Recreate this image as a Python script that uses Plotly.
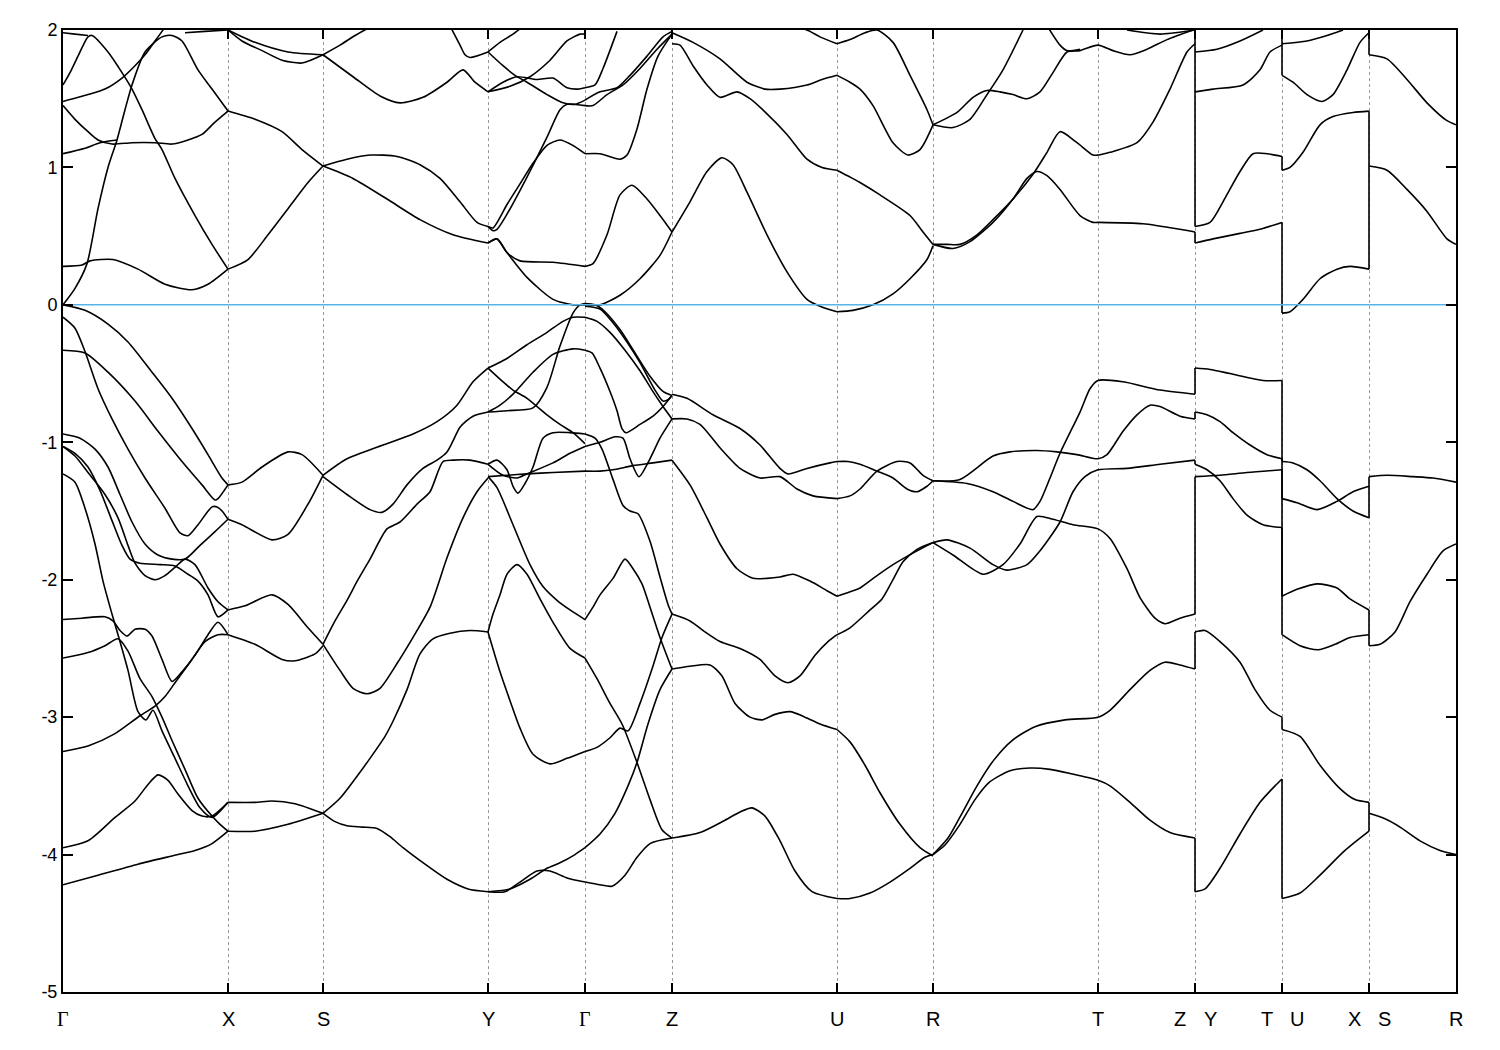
import plotly.graph_objects as go

# ---------------- high-symmetry path (path coordinate, arbitrary units) ----------------
hs_pos = [63, 228, 323, 488, 585, 672, 837, 933, 1098, 1195, 1282, 1369, 1456]
label_text = ["Γ", "X", "S", "Y", "Γ", "Z", "U", "R", "T", "Z", "Y", "T", "U", "X", "S", "R"]
label_pos = [63, 228, 323, 488, 585, 672, 837, 933, 1098, 1195, 1195, 1282, 1282, 1369, 1369, 1456]
label_side = [0, 0, 0, 0, 0, 0, 0, 0, 0, -1, 1, -1, 1, -1, 1, 0]

y_ticks = [-5, -4, -3, -2, -1, 0, 1, 2]
y_tick_text = ["-5", "-4", "-3", "-2", "-1", "0", "1", "2"]
e_fermi = 0.0

# ---------------- bands: each curve is a list of (k, E) ----------------
band_GX = [
    [(63,0.0),(75,0.12),(87,0.30),(98,0.70),(108,1.0),(117,1.20),(125,1.42),(132,1.60),(145,1.84),(162,1.95),(172,1.96),(182,1.92),(198,1.71),(212,1.57),(228,1.41)],
    [(63,0.28),(82,0.29),(90,0.32),(113,0.33),(138,0.26),(165,0.15),(192,0.11),(208,0.15),(228,0.26)],
    [(63,1.60),(70,1.69),(78,1.81),(88,1.95),(92,1.96),(108,1.84),(122,1.69),(132,1.57),(142,1.42),(155,1.21),(162,1.13),(175,0.92),(195,0.65),(212,0.44),(228,0.26)],
    [(63,1.48),(88,1.53),(105,1.57),(122,1.65),(135,1.74),(145,1.82),(155,1.92),(162,1.99),(168,2.05)],
    [(63,1.45),(75,1.35),(88,1.26),(98,1.20),(112,1.17),(132,1.18),(155,1.18),(172,1.17),(188,1.20),(202,1.24),(215,1.33),(228,1.41)],
    [(63,1.10),(85,1.14),(100,1.18),(117,1.20)],
    [(63,1.98),(75,1.97),(88,1.96)],
    [(185,1.98),(205,1.99),(228,2.0)],
    [(63,0.0),(85,-0.04),(108,-0.14),(128,-0.27),(152,-0.49),(172,-0.68),(192,-0.90),(208,-1.09),(222,-1.26),(228,-1.31)],
    [(63,-0.09),(75,-0.17),(85,-0.34),(98,-0.61),(112,-0.83),(128,-1.05),(145,-1.26),(165,-1.48),(180,-1.66),(188,-1.68),(198,-1.60),(212,-1.47),(217,-1.47),(222,-1.50),(228,-1.56)],
    [(63,-0.33),(85,-0.35),(108,-0.49),(135,-0.70),(158,-0.92),(182,-1.14),(202,-1.31),(215,-1.42),(218,-1.41),(228,-1.31)],
    [(63,-0.94),(80,-0.97),(95,-1.05),(108,-1.18),(120,-1.38),(132,-1.58),(145,-1.74),(158,-1.82),(172,-1.85),(185,-1.85),(200,-1.75),(215,-1.65),(228,-1.56)],
    [(63,-1.03),(75,-1.08),(88,-1.18),(100,-1.35),(112,-1.57),(122,-1.75),(130,-1.85),(140,-1.88),(160,-1.89),(175,-1.90),(188,-1.96),(198,-2.01),(208,-2.11),(218,-2.27),(228,-2.22)],
    [(63,-1.03),(75,-1.10),(88,-1.22),(105,-1.38),(118,-1.55),(128,-1.75),(135,-1.88),(145,-1.97),(155,-2.0),(165,-1.97),(175,-1.91),(185,-1.85),(195,-1.89),(208,-2.06),(218,-2.16),(228,-2.22)],
    [(63,-1.23),(75,-1.29),(85,-1.48),(95,-1.74),(103,-2.01),(112,-2.25),(118,-2.40),(128,-2.66),(138,-2.96),(146,-3.02),(153,-2.95),(162,-3.10),(175,-3.30),(188,-3.50),(200,-3.66),(212,-3.73),(228,-3.62)],
    [(63,-2.29),(82,-2.28),(105,-2.27),(113,-2.30),(120,-2.37),(127,-2.41),(135,-2.36),(145,-2.36),(152,-2.41),(162,-2.58),(172,-2.74),(182,-2.67),(195,-2.55),(208,-2.40),(218,-2.31),(228,-2.40)],
    [(63,-2.57),(88,-2.53),(105,-2.48),(118,-2.43),(128,-2.52),(140,-2.72),(152,-2.85),(162,-3.00),(172,-3.17),(185,-3.38),(198,-3.59),(212,-3.72),(220,-3.78),(228,-3.83)],
    [(63,-3.25),(88,-3.21),(115,-3.12),(140,-2.99),(155,-2.92),(165,-2.85),(175,-2.75),(190,-2.60),(205,-2.45),(218,-2.40),(228,-2.40)],
    [(63,-3.95),(88,-3.90),(115,-3.73),(135,-3.61),(148,-3.49),(158,-3.42),(168,-3.46),(178,-3.56),(192,-3.68),(202,-3.72),(212,-3.72),(228,-3.62)],
    [(63,-4.22),(98,-4.15),(138,-4.07),(172,-4.01),(195,-3.97),(212,-3.92),(228,-3.83)],
]

band_XS = [
    [(228,2.0),(255,1.91),(288,1.84),(323,1.82)],
    [(228,2.0),(242,1.92),(262,1.85),(282,1.78),(302,1.76),(323,1.82)],
    [(228,1.41),(255,1.35),(282,1.26),(302,1.13),(323,1.01)],
    [(228,0.26),(248,0.33),(268,0.51),(288,0.70),(308,0.89),(323,1.01)],
    [(228,-1.31),(242,-1.29),(262,-1.18),(288,-1.07),(302,-1.09),(323,-1.24)],
    [(228,-1.56),(242,-1.60),(272,-1.71),(288,-1.67),(308,-1.45),(323,-1.24)],
    [(228,-2.22),(245,-2.19),(272,-2.11),(288,-2.18),(308,-2.35),(323,-2.47)],
    [(228,-2.40),(255,-2.47),(282,-2.58),(295,-2.59),(315,-2.54),(323,-2.48)],
    [(228,-3.62),(255,-3.62),(272,-3.61),(295,-3.63),(323,-3.70)],
    [(228,-3.83),(255,-3.83),(288,-3.78),(323,-3.70)],
]

band_SY = [
    [(323,1.82),(340,1.89),(355,1.96),(370,2.02)],
    [(323,1.82),(353,1.66),(380,1.52),(400,1.47),(423,1.51),(447,1.62),(463,1.71),(475,1.62),(488,1.55)],
    [(323,1.01),(347,1.06),(370,1.09),(397,1.08),(420,1.02),(440,0.92),(460,0.75),(477,0.60),(488,0.57)],
    [(323,1.01),(353,0.92),(387,0.77),(420,0.62),(453,0.51),(488,0.45)],
    [(450,2.03),(460,1.89),(465,1.82),(470,1.80),(488,1.84)],
    [(323,-1.24),(347,-1.12),(383,-1.02),(413,-0.94),(437,-0.85),(457,-0.73),(473,-0.56),(488,-0.46)],
    [(323,-1.25),(347,-1.38),(370,-1.49),(382,-1.51),(393,-1.45),(407,-1.31),(423,-1.19),(437,-1.13),(447,-1.07),(453,-0.99),(460,-0.89),(473,-0.81),(488,-0.78)],
    [(323,-2.47),(335,-2.30),(347,-2.15),(358,-2.0),(370,-1.85),(387,-1.63),(400,-1.58),(417,-1.45),(430,-1.36),(443,-1.14),(453,-1.13),(470,-1.13),(488,-1.16)],
    [(323,-2.47),(340,-2.66),(353,-2.79),(367,-2.83),(380,-2.79),(397,-2.61),(413,-2.42),(430,-2.20),(447,-1.84),(463,-1.55),(477,-1.36),(488,-1.26)],
    [(323,-3.70),(340,-3.59),(355,-3.45),(370,-3.30),(385,-3.14),(393,-3.03),(407,-2.80),(420,-2.54),(433,-2.43),(450,-2.39),(470,-2.37),(488,-2.38)],
    [(323,-3.70),(335,-3.76),(347,-3.79),(362,-3.80),(377,-3.81),(390,-3.87),(403,-3.95),(425,-4.07),(447,-4.18),(468,-4.25),(488,-4.27)],
]

band_YG = [
    [(488,0.45),(497,0.48),(507,0.38),(527,0.20),(553,0.04),(573,0.0),(585,0.0)],
    [(488,0.45),(497,0.48),(507,0.38),(520,0.32),(553,0.31),(585,0.28)],
    [(488,0.57),(493,0.54),(497,0.55),(507,0.66),(527,0.93),(547,1.22),(560,1.42),(567,1.46),(585,1.45)],
    [(488,0.57),(493,0.56),(507,0.73),(520,0.88),(533,1.03),(547,1.16),(560,1.20),(573,1.16),(585,1.10)],
    [(488,1.84),(503,1.74),(515,1.67),(527,1.62),(547,1.53),(563,1.47),(575,1.46),(585,1.49)],
    [(488,1.55),(503,1.62),(517,1.66),(537,1.64),(553,1.65),(567,1.58),(578,1.57),(585,1.58)],
    [(488,1.55),(510,1.59),(530,1.66),(550,1.78),(567,1.92),(580,1.97),(585,1.97)],
    [(488,1.84),(500,1.91),(513,1.97),(522,2.02)],
    [(488,-0.46),(507,-0.39),(527,-0.29),(547,-0.20),(563,-0.12),(573,-0.09),(585,-0.09)],
    [(488,-0.46),(500,-0.54),(513,-0.62),(527,-0.68),(547,-0.80),(560,-0.87),(573,-0.93),(585,-1.01)],
    [(488,-0.78),(500,-0.73),(513,-0.65),(533,-0.49),(553,-0.36),(573,-0.32),(585,-0.33)],
    [(488,-0.78),(507,-0.77),(533,-0.75),(547,-0.60),(560,-0.30),(573,-0.06),(580,0.0),(585,0.01)],
    [(488,-1.25),(507,-1.24),(527,-1.23),(553,-1.22),(585,-1.21)],
    [(488,-1.16),(497,-1.13),(507,-1.20),(513,-1.32),(518,-1.37),(525,-1.30),(533,-1.18),(543,-0.97),(553,-0.93),(570,-0.93),(585,-0.94)],
    [(488,-1.16),(503,-1.24),(517,-1.26),(527,-1.23),(553,-1.15),(570,-1.08),(585,-1.03)],
    [(488,-1.25),(497,-1.33),(513,-1.60),(530,-1.89),(543,-2.05),(557,-2.15),(570,-2.22),(585,-2.29)],
    [(488,-2.38),(493,-2.25),(500,-2.11),(507,-1.96),(517,-1.89),(527,-1.96),(540,-2.14),(553,-2.31),(570,-2.50),(585,-2.57)],
    [(488,-2.38),(500,-2.67),(510,-2.88),(520,-3.08),(533,-3.27),(550,-3.34),(567,-3.30),(585,-3.25)],
    [(488,-4.27),(510,-4.25),(530,-4.18),(547,-4.10),(560,-4.06),(575,-4.0),(585,-3.95)],
    [(488,-4.27),(505,-4.27),(520,-4.20),(537,-4.12),(550,-4.12),(567,-4.17),(585,-4.20)],
]

band_GZ = [
    [(585,0.0),(600,0.0),(620,0.07),(640,0.19),(660,0.36),(672,0.53)],
    [(585,0.28),(593,0.30),(607,0.51),(620,0.80),(632,0.87),(647,0.77),(660,0.65),(672,0.53)],
    [(585,1.10),(600,1.10),(620,1.06),(627,1.09),(637,1.28),(647,1.57),(658,1.81),(672,1.97)],
    [(585,1.45),(593,1.45),(607,1.53),(623,1.60),(640,1.72),(657,1.86),(672,1.97)],
    [(585,1.49),(600,1.55),(617,1.58),(630,1.67),(647,1.81),(663,1.95),(672,1.99)],
    [(585,1.58),(595,1.60),(603,1.72),(617,1.99)],
    [(585,0.01),(595,0.0),(605,-0.05),(620,-0.18),(635,-0.35),(650,-0.52),(663,-0.63),(672,-0.66)],
    [(585,-0.01),(600,-0.03),(613,-0.13),(627,-0.27),(640,-0.42),(655,-0.62),(663,-0.70),(668,-0.69),(672,-0.66)],
    [(585,-0.09),(597,-0.12),(610,-0.20),(625,-0.33),(640,-0.48),(652,-0.62),(663,-0.74),(672,-0.83)],
    [(585,-0.33),(592,-0.35),(600,-0.46),(610,-0.63),(617,-0.77),(622,-0.90),(626,-0.93),(640,-0.87),(653,-0.81),(663,-0.74),(672,-0.66)],
    [(585,-0.94),(595,-0.97),(602,-1.05),(613,-1.27),(623,-1.46),(630,-1.50),(638,-1.52),(650,-1.72),(660,-1.98),(668,-2.18),(672,-2.25)],
    [(585,-1.03),(600,-1.00),(615,-0.96),(623,-0.97),(630,-1.12),(639,-1.25),(650,-1.12),(660,-0.97),(672,-0.83)],
    [(585,-1.21),(600,-1.21),(613,-1.20),(633,-1.17),(653,-1.15),(672,-1.13)],
    [(585,-2.29),(593,-2.20),(600,-2.11),(613,-1.99),(625,-1.85),(633,-1.92),(642,-2.03),(650,-2.20),(660,-2.42),(672,-2.65)],
    [(585,-2.57),(597,-2.72),(610,-2.90),(622,-3.05),(637,-3.33),(650,-3.60),(662,-3.82),(672,-3.88)],
    [(585,-3.25),(597,-3.22),(610,-3.15),(620,-3.08),(628,-3.10),(640,-2.90),(652,-2.65),(662,-2.42),(672,-2.25)],
    [(585,-3.95),(600,-3.85),(615,-3.70),(628,-3.50),(637,-3.33),(648,-3.05),(660,-2.80),(672,-2.65)],
    [(585,-4.20),(600,-4.22),(612,-4.23),(625,-4.15),(637,-4.02),(650,-3.92),(672,-3.88)],
]

band_ZU = [
    [(672,0.53),(690,0.75),(707,0.97),(722,1.07),(733,1.02),(747,0.82),(767,0.51),(787,0.24),(807,0.04),(820,-0.01),(837,-0.05)],
    [(672,1.90),(680,1.89),(693,1.74),(707,1.60),(720,1.51),(737,1.55),(750,1.50),(767,1.39),(787,1.24),(807,1.06),(822,1.00),(837,0.98)],
    [(672,1.98),(693,1.91),(720,1.79),(747,1.62),(765,1.57),(780,1.57),(807,1.60),(822,1.64),(837,1.67)],
    [(800,2.02),(810,1.99),(820,1.95),(837,1.90)],
    [(672,-0.65),(687,-0.68),(713,-0.80),(740,-0.90),(760,-1.02),(780,-1.19),(788,-1.23),(807,-1.19),(830,-1.15),(837,-1.14)],
    [(672,-0.83),(687,-0.83),(700,-0.87),(720,-1.04),(740,-1.19),(760,-1.26),(780,-1.25),(797,-1.34),(813,-1.39),(837,-1.41)],
    [(672,-1.13),(690,-1.31),(707,-1.55),(720,-1.74),(737,-1.92),(753,-1.99),(767,-1.99),(780,-1.98),(793,-1.96),(810,-2.01),(827,-2.08),(837,-2.12)],
    [(672,-2.25),(690,-2.30),(705,-2.38),(720,-2.45),(740,-2.50),(760,-2.58),(775,-2.70),(788,-2.75),(800,-2.70),(815,-2.55),(828,-2.45),(837,-2.40)],
    [(672,-2.65),(690,-2.63),(710,-2.62),(722,-2.70),(735,-2.90),(750,-3.00),(762,-3.02),(775,-2.98),(790,-2.96),(805,-3.0),(820,-3.05),(837,-3.09)],
    [(672,-3.88),(700,-3.84),(725,-3.75),(740,-3.69),(752,-3.66),(765,-3.72),(780,-3.90),(795,-4.12),(812,-4.27),(837,-4.32)],
]

band_UR = [
    [(837,-0.05),(853,-0.04),(873,0.0),(893,0.08),(910,0.19),(927,0.33),(933,0.43)],
    [(837,0.98),(850,0.93),(860,0.89),(880,0.80),(910,0.65),(923,0.53),(933,0.44)],
    [(837,1.67),(850,1.62),(860,1.57),(873,1.45),(893,1.18),(908,1.09),(920,1.13),(933,1.31)],
    [(837,1.90),(850,1.93),(865,1.98),(877,2.0),(893,1.91),(910,1.67),(927,1.42),(933,1.31)],
    [(837,-1.14),(848,-1.14),(860,-1.16),(877,-1.21),(893,-1.26),(907,-1.34),(917,-1.36),(927,-1.32),(933,-1.28)],
    [(837,-1.41),(850,-1.39),(860,-1.34),(877,-1.21),(897,-1.14),(910,-1.15),(923,-1.24),(933,-1.28)],
    [(837,-2.12),(853,-2.08),(860,-2.06),(877,-1.97),(893,-1.89),(917,-1.79),(933,-1.73)],
    [(837,-2.40),(850,-2.35),(870,-2.22),(882,-2.14),(893,-2.0),(903,-1.87),(917,-1.78),(933,-1.73)],
    [(837,-3.09),(850,-3.18),(865,-3.35),(880,-3.55),(900,-3.78),(920,-3.95),(933,-4.01)],
    [(837,-4.32),(850,-4.32),(870,-4.28),(890,-4.20),(910,-4.10),(925,-4.02),(933,-4.0)],
]

band_RTZ = [
    [(933,0.44),(947,0.44),(960,0.44),(977,0.51),(993,0.62),(1013,0.77),(1033,0.95),(1047,1.11),(1060,1.26),(1077,1.18),(1093,1.09),(1098,1.09),(1110,1.11),(1137,1.18),(1153,1.33),(1170,1.57),(1187,1.84),(1195,1.90)],
    [(933,0.44),(953,0.41),(970,0.46),(993,0.60),(1013,0.77),(1027,0.92),(1037,0.97),(1047,0.94),(1060,0.84),(1080,0.65),(1093,0.60),(1098,0.60),(1143,0.59),(1180,0.55),(1195,0.53)],
    [(933,1.31),(953,1.29),(970,1.35),(987,1.53),(1003,1.71),(1023,2.0)],
    [(933,1.31),(957,1.40),(973,1.51),(987,1.56),(1000,1.55),(1013,1.53),(1027,1.50),(1040,1.55),(1053,1.69),(1067,1.84),(1080,1.85),(1098,1.89),(1113,1.85),(1130,1.82),(1147,1.86),(1167,1.93),(1193,2.0)],
    [(1048,2.02),(1060,1.89),(1067,1.85),(1080,1.86)],
    [(1127,2.0),(1160,1.97),(1195,2.0)],
    [(933,-1.28),(960,-1.27),(993,-1.10),(1010,-1.07),(1037,-1.06),(1057,-1.07),(1077,-1.09),(1098,-1.12),(1107,-1.09),(1123,-0.92),(1137,-0.80),(1150,-0.73),(1160,-0.74),(1180,-0.81),(1195,-0.83)],
    [(933,-1.28),(967,-1.30),(993,-1.36),(1013,-1.43),(1033,-1.49),(1040,-1.43),(1050,-1.26),(1060,-1.08),(1080,-0.78),(1090,-0.61),(1098,-0.55),(1123,-0.56),(1160,-0.62),(1195,-0.65)],
    [(933,-1.73),(947,-1.71),(970,-1.77),(993,-1.89),(1007,-1.93),(1027,-1.89),(1040,-1.79),(1060,-1.58),(1073,-1.36),(1085,-1.25),(1098,-1.20),(1127,-1.19),(1160,-1.16),(1195,-1.13)],
    [(933,-1.73),(953,-1.82),(983,-1.96),(1003,-1.89),(1020,-1.74),(1037,-1.54),(1053,-1.56),(1073,-1.60),(1098,-1.63),(1110,-1.70),(1127,-1.92),(1140,-2.13),(1155,-2.28),(1165,-2.32),(1180,-2.28),(1195,-2.25)],
    [(933,-4.0),(945,-3.93),(960,-3.78),(975,-3.60),(990,-3.47),(1010,-3.39),(1030,-3.37),(1050,-3.38),(1070,-3.41),(1098,-3.46),(1110,-3.50),(1130,-3.62),(1150,-3.75),(1170,-3.84),(1195,-3.88)],
    [(933,-4.0),(948,-3.88),(962,-3.70),(977,-3.50),(993,-3.32),(1012,-3.17),(1035,-3.07),(1065,-3.02),(1098,-3.0),(1110,-2.95),(1130,-2.80),(1150,-2.66),(1165,-2.60),(1180,-2.62),(1195,-2.65)],
]

band_YT = [
    [(1195,0.45),(1213,0.48),(1240,0.52),(1260,0.55),(1282,0.60)],
    [(1195,0.57),(1210,0.60),(1223,0.75),(1240,0.97),(1253,1.10),(1267,1.10),(1282,1.08)],
    [(1195,1.55),(1213,1.57),(1243,1.60),(1260,1.71),(1270,1.84),(1282,1.89)],
    [(1195,1.84),(1217,1.86),(1240,1.92),(1263,2.0)],
    [(1195,-0.46),(1210,-0.47),(1230,-0.50),(1263,-0.55),(1282,-0.55)],
    [(1195,-0.78),(1207,-0.80),(1220,-0.85),(1233,-0.93),(1250,-1.02),(1267,-1.09),(1282,-1.12)],
    [(1195,-1.16),(1207,-1.20),(1220,-1.28),(1233,-1.41),(1247,-1.53),(1263,-1.60),(1282,-1.62)],
    [(1195,-1.25),(1220,-1.24),(1247,-1.22),(1282,-1.20)],
    [(1195,-2.38),(1205,-2.37),(1220,-2.45),(1240,-2.60),(1255,-2.80),(1270,-2.95),(1282,-3.0)],
    [(1195,-4.27),(1205,-4.25),(1220,-4.10),(1240,-3.85),(1260,-3.62),(1275,-3.50),(1282,-3.45)],
]

band_UX = [
    [(1282,-0.06),(1290,-0.05),(1303,0.04),(1320,0.19),(1337,0.26),(1350,0.28),(1369,0.26)],
    [(1282,0.98),(1290,1.0),(1303,1.11),(1320,1.31),(1333,1.37),(1353,1.40),(1369,1.41)],
    [(1282,1.67),(1293,1.62),(1307,1.53),(1322,1.48),(1333,1.53),(1347,1.71),(1360,1.91),(1369,1.98)],
    [(1282,1.90),(1307,1.92),(1327,1.96),(1343,2.0)],
    [(1282,-1.14),(1293,-1.15),(1307,-1.20),(1320,-1.28),(1337,-1.41),(1353,-1.50),(1369,-1.55)],
    [(1282,-1.41),(1297,-1.44),(1317,-1.49),(1337,-1.43),(1353,-1.36),(1369,-1.32)],
    [(1282,-2.12),(1297,-2.07),(1317,-2.03),(1337,-2.06),(1350,-2.14),(1369,-2.22)],
    [(1282,-2.40),(1300,-2.48),(1318,-2.51),(1335,-2.47),(1350,-2.42),(1369,-2.40)],
    [(1282,-3.09),(1300,-3.14),(1320,-3.35),(1340,-3.52),(1355,-3.60),(1369,-3.62)],
    [(1282,-4.32),(1300,-4.28),(1320,-4.15),(1345,-3.97),(1369,-3.83)],
]

band_SR = [
    [(1369,1.82),(1387,1.79),(1407,1.64),(1427,1.47),(1447,1.34),(1456,1.31)],
    [(1369,1.01),(1387,0.98),(1407,0.84),(1427,0.68),(1447,0.48),(1456,0.44)],
    [(1369,-1.25),(1387,-1.24),(1413,-1.25),(1433,-1.26),(1456,-1.29)],
    [(1369,-2.48),(1380,-2.47),(1395,-2.38),(1410,-2.16),(1427,-1.96),(1443,-1.79),(1456,-1.74)],
    [(1369,-3.70),(1385,-3.74),(1400,-3.80),(1420,-3.90),(1440,-3.97),(1456,-4.0)],
]

# vertical connections at the path discontinuities: (k, E_from, E_to)
jumps = [
    (1195, 0.53, 0.45), (1195, 0.57, 2.05), (1195, -0.65, -0.46), (1195, -0.83, -0.78),
    (1195, -1.13, -1.16), (1195, -2.25, -1.25), (1195, -2.65, -2.38), (1195, -3.88, -4.27),
    (1282, 0.60, -0.06), (1282, 1.08, 0.98), (1282, 1.67, 2.05), (1282, -0.55, -1.14),
    (1282, -1.12, -1.41), (1282, -1.20, -2.12), (1282, -1.62, -2.40), (1282, -3.0, -3.09),
    (1282, -3.45, -4.32),
    (1369, 0.26, 1.41), (1369, 1.82, 2.05), (1369, -1.55, -1.25), (1369, -2.22, -2.48),
    (1369, -3.83, -3.62),
]

all_bands = band_GX + band_XS + band_SY + band_YG + band_GZ + band_ZU + band_UR + band_RTZ + band_YT + band_UX + band_SR

# ---------------- figure ----------------
fig = go.Figure()

xs, ys = [], []
for curve in all_bands:
    xs += [p[0] for p in curve] + [None]
    ys += [p[1] for p in curve] + [None]
fig.add_trace(go.Scatter(x=xs, y=ys, mode="lines",
                         line=dict(color="black", width=1.6, shape="spline", smoothing=0.7),
                         hoverinfo="skip", showlegend=False))

jx, jy = [], []
for k, e1, e2 in jumps:
    jx += [k, k, None]
    jy += [e1, e2, None]
fig.add_trace(go.Scatter(x=jx, y=jy, mode="lines", line=dict(color="black", width=1.6),
                         hoverinfo="skip", showlegend=False))

fig.add_trace(go.Scatter(x=[hs_pos[0], hs_pos[-1]], y=[e_fermi, e_fermi], mode="lines",
                         line=dict(color="#56B4E9", width=1.5), hoverinfo="skip", showlegend=False))

for txt, pos, side in zip(label_text, label_pos, label_side):
    fam = "Liberation Serif" if txt == "Γ" else "Liberation Sans"
    fig.add_annotation(x=pos, y=0, xref="x", yref="paper", text=txt, showarrow=False,
                       yanchor="top", yshift=-14, xshift=side * 15,
                       font=dict(family=fam, size=20, color="black"))

fig.update_layout(
    width=1500, height=1050,
    margin=dict(l=55, r=52, t=20, b=66),
    paper_bgcolor="white", plot_bgcolor="white",
    font=dict(family="Liberation Sans", size=18, color="black"),
    xaxis=dict(range=[hs_pos[0], hs_pos[-1]], tickvals=hs_pos, ticktext=[""] * len(hs_pos),
               ticks="inside", ticklen=9, tickwidth=1.5, tickcolor="black",
               showline=True, linecolor="black", linewidth=2, mirror="ticks",
               showgrid=True, gridcolor="#9a9a9a", griddash="dot", gridwidth=1,
               zeroline=False),
    yaxis=dict(range=[-5, 2], tickvals=y_ticks, ticktext=y_tick_text,
               ticks="inside", ticklen=10, tickwidth=1.5, tickcolor="black",
               showline=True, linecolor="black", linewidth=2, mirror="ticks",
               showgrid=False, zeroline=False, tickfont=dict(size=18)),
)

fig.write_html("out.html")
